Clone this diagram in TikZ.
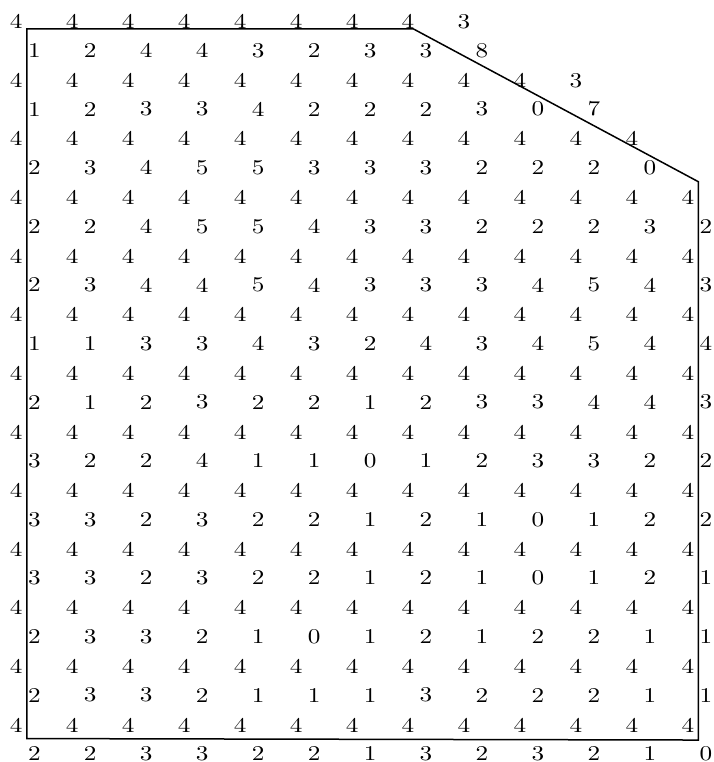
\documentclass[tikz,border=0pt]{standalone}
\begin{document}
\begin{tikzpicture}[x=27.98pt,y=-29.3pt,
        val/.style={inner sep=0pt,font=\fontsize{10.5}{12}\selectfont,xscale=1.2,transform shape}]
    \useasboundingbox(-0.479,-0.493)rectangle(12.262,12.510);
    \coordinate(A)at(0,0);
    \coordinate(B)at(6.907,0);
    \coordinate(C)at(12,2.608);
    \coordinate(D)at(12,12.135);
    \coordinate(E)at(0,12.11);
    \draw[line width=0.75pt](A)--(B)--(C)--(D)--(E)--cycle;
    \foreach \j/\row in {0/{4,4,4,4,4,4,4,4,3},1/{4,4,4,4,4,4,4,4,4,4,3},2/{4,4,4,4,4,4,4,4,4,4,4,4}}
        \foreach \v [count=\k from 0] in \row
            \node[val](a-\j-\k)at(\k-0.188,\j-0.123){\v};
    \foreach \j in {3,...,12}
        \foreach \k in {0,...,12}
            \node[val](a-\j-\k)at(\k-0.188,\j-0.123){4};
    \foreach \j/\row in {0/{1,2,4,4,3,2,3,3,8},
            1/{1,2,3,3,4,2,2,2,3,0,7},
            2/{2,3,4,5,5,3,3,3,2,2,2,0},
            3/{2,2,4,5,5,4,3,3,2,2,2,3,2},
            4/{2,3,4,4,5,4,3,3,3,4,5,4,3},
            5/{1,1,3,3,4,3,2,4,3,4,5,4,4},
            6/{2,1,2,3,2,2,1,2,3,3,4,4,3},
            7/{3,2,2,4,1,1,0,1,2,3,3,2,2},
            8/{3,3,2,3,2,2,1,2,1,0,1,2,2},
            9/{3,3,2,3,2,2,1,2,1,0,1,2,1},
            10/{2,3,3,2,1,0,1,2,1,2,2,1,1},
            11/{2,3,3,2,1,1,1,3,2,2,2,1,1},
            12/{2,2,3,3,2,2,1,3,2,3,2,1,0}}
        \foreach \v [count=\k from 0] in \row
            \node[val](b-\j-\k)at(\k+0.134,\j+0.369){\v};
\end{tikzpicture}
\end{document}
